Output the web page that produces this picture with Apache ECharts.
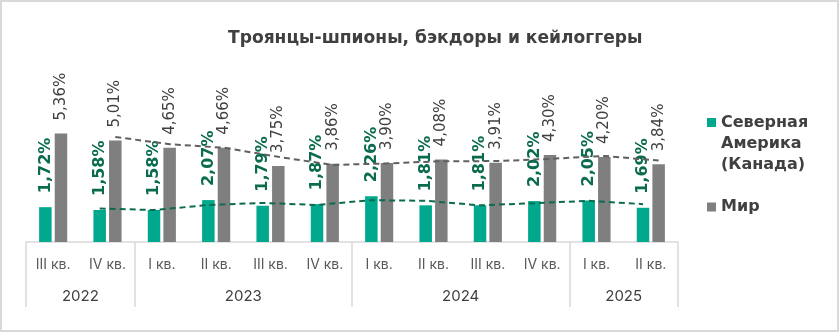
<!DOCTYPE html>
<html>
<head>
<meta charset="utf-8">
<script src="https://cdn.jsdelivr.net/npm/echarts@6/dist/echarts.min.js"></script>
<style>
  html, body { margin: 0; padding: 0; background: #fff; }
  #chart { position: absolute; left: 0; top: 0; width: 840px; height: 332px; }
  #frame { position: absolute; left: 0; top: 0; width: 835px; height: 328px; border: 2px solid #d9d9d9; pointer-events: none; }
</style>
</head>
<body>
<div id="chart"></div>
<div id="frame"></div>
<script>
// ---- data ----
const quarters = ['III кв.', 'IV кв.', 'I кв.', 'II кв.', 'III кв.', 'IV кв.', 'I кв.', 'II кв.', 'III кв.', 'IV кв.', 'I кв.', 'II кв.'];
const years = ['2022', '2023', '2024', '2025'];
const yearSpans = [2, 4, 4, 2];
const northAmerica = [1.72, 1.58, 1.58, 2.07, 1.79, 1.87, 2.26, 1.81, 1.81, 2.02, 2.05, 1.69];
const world = [5.36, 5.01, 4.65, 4.66, 3.75, 3.86, 3.90, 4.08, 3.91, 4.30, 4.20, 3.84];
const seriesNames = ['Северная Америка (Канада)', 'Мир'];
const titleText = 'Троянцы-шпионы, бэкдоры и кейлоггеры';

// ---- derived ----
const n = quarters.length;
const barW = 0.23, barGapRatio = 0.25;
const off = (barW + barW * barGapRatio) / 2;
function movingAvg(arr, shift) {
  const out = [];
  for (let i = 1; i < arr.length; i++) out.push([i + 0.5 + shift, (arr[i - 1] + arr[i]) / 2]);
  return out;
}
const boundaries = [0];
yearSpans.forEach(s => boundaries.push(boundaries[boundaries.length - 1] + s));
const yearCenters = {};
years.forEach((y, i) => { yearCenters[(boundaries[i] + boundaries[i + 1]) / 2] = y; });
const sepColors = [];
for (let i = 0; i <= n; i++) sepColors.push(boundaries.indexOf(i) >= 0 ? '#d9d9d9' : 'rgba(0,0,0,0)');

const fmt = v => v.toFixed(2).replace('.', ',') + '%';
const WIDE = '"DejaVu Sans", sans-serif';
const AXISF = 'Inter, "Noto Sans", sans-serif';
// legend icon: 9x9 square at the top of a tall item so it lines up with the first text line
const tallIcon = 'path://M0,0h9v9h-9z M4,50.9h0.1v0.1h-0.1z';

const chart = echarts.init(document.getElementById('chart'), null, { renderer: 'canvas' });
chart.setOption({
  animation: false,
  textStyle: { fontFamily: AXISF },
  title: {
    text: titleText, left: 223, top: 25,
    textStyle: { fontFamily: WIDE, fontSize: 17.1, fontWeight: 'bold', color: '#404040' }
  },
  legend: [{
    data: [seriesNames[0]], orient: 'vertical', left: 702, top: 107,
    itemWidth: 9, itemHeight: 51, icon: tallIcon,
    formatter: name => name.split(' ').join('\n'),
    textStyle: { fontFamily: WIDE, fontSize: 16, fontWeight: 'bold', color: '#404040', lineHeight: 21 }
  }, {
    data: [seriesNames[1]], orient: 'vertical', left: 702, top: 194,
    itemWidth: 9, itemHeight: 9, icon: 'rect',
    textStyle: { fontFamily: WIDE, fontSize: 16, fontWeight: 'bold', color: '#404040' }
  }],
  grid: [
    { left: 26, right: 162, top: 80, bottom: 90 },
    { left: 26, right: 162, top: 242, height: 65 }
  ],
  xAxis: [
    {
      type: 'category', data: quarters, gridIndex: 0,
      axisLine: { lineStyle: { color: '#d9d9d9', width: 1.5 } },
      axisTick: { show: false },
      axisLabel: { margin: 16, fontSize: 14, color: '#595959', fontFamily: AXISF }
    },
    { type: 'value', gridIndex: 0, min: 0, max: n, show: false },
    {
      type: 'value', gridIndex: 1, min: 0, max: n, interval: 1,
      axisLine: { show: false }, axisTick: { show: false },
      splitLine: { show: true, lineStyle: { color: sepColors, width: 1.5 } },
      axisLabel: {
        inside: true, margin: 3, fontSize: 15, color: '#404040', fontFamily: AXISF,
        showMinLabel: true, showMaxLabel: true,
        formatter: v => yearCenters[v] || ''
      }
    }
  ],
  yAxis: [
    { type: 'value', gridIndex: 0, min: 0, max: 8, show: false },
    { type: 'value', gridIndex: 1, min: 0, max: 1, show: false }
  ],
  series: [
    {
      name: seriesNames[0], type: 'bar', data: northAmerica, xAxisIndex: 0, yAxisIndex: 0,
      barWidth: (barW * 100) + '%', barGap: (barGapRatio * 100) + '%',
      itemStyle: { color: '#00A88E' },
      label: {
        show: true, position: 'top', rotate: 90, align: 'left', verticalAlign: 'middle', distance: 14,
        formatter: p => fmt(p.value), fontSize: 16, fontWeight: 'bold', color: '#0A6B4F', fontFamily: WIDE
      }
    },
    {
      name: seriesNames[1], type: 'bar', data: world, xAxisIndex: 0, yAxisIndex: 0,
      barWidth: (barW * 100) + '%', barGap: (barGapRatio * 100) + '%',
      itemStyle: { color: '#7F7F7F' },
      label: {
        show: true, position: 'top', rotate: 90, align: 'left', verticalAlign: 'middle', distance: 13,
        formatter: p => fmt(p.value), fontSize: 15, color: '#404040', fontFamily: WIDE
      }
    },
    {
      type: 'line', xAxisIndex: 1, yAxisIndex: 0, data: movingAvg(northAmerica, -off),
      symbol: 'none', silent: true, z: 5,
      lineStyle: { color: '#0A6B4F', width: 2, type: [6, 4] }
    },
    {
      type: 'line', xAxisIndex: 1, yAxisIndex: 0, data: movingAvg(world, off),
      symbol: 'none', silent: true, z: 5,
      lineStyle: { color: '#606060', width: 2, type: [6, 4] }
    }
  ]
});
</script>
</body>
</html>
